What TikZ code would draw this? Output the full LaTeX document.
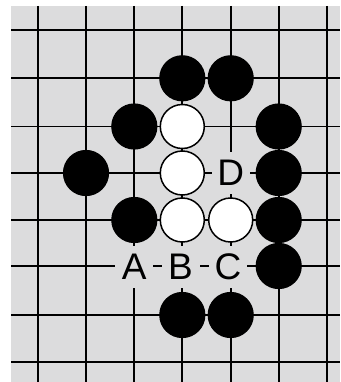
\documentclass[tikz,border=0pt]{standalone}
\usepackage{fontspec}
\setmainfont{Liberation Sans}
\definecolor{boardgray}{RGB}{220,220,221}
\begin{document}
\begin{tikzpicture}[x=1pt,y=-1pt,
  gridline/.style={line width=1.9pt,black},
  blackstone/.style={circle,fill=black,draw=black,line width=1.2pt,minimum size=45pt,inner sep=0pt},
  whitestone/.style={circle,fill=white,draw=black,line width=1.5pt,minimum size=44pt,inner sep=0pt},
  pointlabel/.style={fill=boardgray,inner sep=0pt,minimum width=38pt,minimum height=42pt,font=\fontsize{37}{37}\selectfont}]
\useasboundingbox (0,0) rectangle (340,382);
\fill[boardgray] (11,6) rectangle (340,382);
% grid
\foreach \x in {37.7,86,134.3,182.3,230.7,278.7,326.7}
  \draw[gridline] (\x,6) -- (\x,382);
\foreach \y in {30,78.3,126.5,173,220,266,315,362}
  \draw[gridline] (11,\y) -- (340,\y);
% columns: 37.7,86,134.3,182.3,230.7,278.7,326.7 ; rows: 30,78.3,126.5,173,220,266,315,362
\node[blackstone] (b1) at (182.3,78.3) {};
\node[blackstone] (b2) at (230.7,78.3) {};
\node[blackstone] (b3) at (134.3,126.5) {};
\node[whitestone] (w1) at (182.3,126.5) {};
\node[blackstone] (b4) at (278.7,126.5) {};
\node[blackstone] (b5) at (86,173) {};
\node[whitestone] (w2) at (182.3,173) {};
\node[blackstone] (b6) at (278.7,173) {};
\node[blackstone] (b7) at (134.3,220) {};
\node[whitestone] (w3) at (182.3,220) {};
\node[whitestone] (w4) at (230.7,220) {};
\node[blackstone] (b8) at (278.7,220) {};
\node[blackstone] (b9) at (278.7,266) {};
\node[blackstone] (b10) at (182.3,315) {};
\node[blackstone] (b11) at (230.7,315) {};
% labels
\node[pointlabel] (lD) at (230.7,173) {D};
\node[pointlabel] (lA) at (134.3,267) {A};
\node[pointlabel] (lB) at (180.5,267) {B};
\node[pointlabel] (lC) at (228,267) {C};
\end{tikzpicture}
\end{document}
